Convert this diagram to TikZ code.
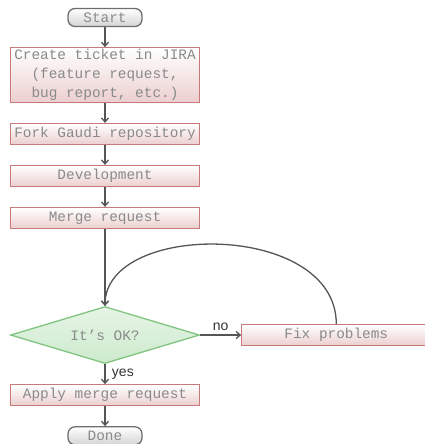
\documentclass[tikz,border=0pt]{standalone}
\usepackage{fontspec}
\setmonofont{Liberation Mono}
\setsansfont{Liberation Sans}
\usetikzlibrary{arrows.meta}
\usetikzlibrary{positioning}
\usetikzlibrary{shapes.geometric}

\definecolor{boxline}{HTML}{C87A7A}
\definecolor{boxfill}{HTML}{ECCFCF}
\definecolor{okline}{HTML}{80C480}
\definecolor{okfill}{HTML}{CDEACD}
\definecolor{termline}{HTML}{6E6E6E}
\definecolor{termfill}{HTML}{D4D4D4}
\definecolor{flowtext}{HTML}{8A8A8A}
\definecolor{wire}{HTML}{555555}

\begin{document}
\begin{tikzpicture}[x=1pt,y=1pt,node distance=20pt and 41pt,
		every node/.style={font=\ttfamily\fontsize{14.4}{19}\selectfont,text=flowtext},
		stepbox/.style={draw=boxline,line width=1.3pt,rectangle,top color=white,bottom color=boxfill,
			minimum width=189pt,minimum height=20.7pt,inner xsep=3pt,inner ysep=1.5pt,align=center},
		terminal/.style={draw=termline,line width=1.3pt,rectangle,rounded corners=7pt,top color=white,bottom color=termfill,
			minimum width=74pt,minimum height=18pt,inner sep=1pt},
		decision/.style={draw=okline,line width=1.3pt,diamond,aspect=3.3,top color=okfill!50!white,bottom color=okfill,
			minimum width=189pt,minimum height=57pt,inner sep=0pt},
		flow/.style={draw=wire,line width=1.3pt,->,>={Straight Barb[length=4pt,width=7pt]}},
		answer/.style={font=\sffamily\fontsize{14}{16}\selectfont,text=black!80}]
		\useasboundingbox (0,0) rectangle (424,-444);

		\node [terminal] (start) at (105,-17.5) {Start};
		\node [stepbox,below=of start] (ticket) {Create ticket in JIRA\\(feature request,\\bug report, etc.)};
		\node [stepbox,below=of ticket] (fork) {Fork Gaudi repository};
		\node [stepbox,below=of fork] (dev) {Development};
		\node [stepbox,below=of dev] (merge) {Merge request};
		\node [decision,below=77pt of merge] (ok) {It’s OK?};
		\node [stepbox,right=of ok] (fix) {Fix problems};
		\node [stepbox,below=of ok] (apply) {Apply merge request};
		\node [terminal,below=of apply] (done) {Done};

		\draw [flow] (start) -- (ticket);
		\draw [flow] (ticket) -- (fork);
		\draw [flow] (fork) -- (dev);
		\draw [flow] (dev) -- (merge);
		\draw [flow] (merge) -- (ok);
		\draw [flow] (ok) -- node [midway,above,answer] {no} (fix);
		\draw [flow] (fix.north) .. controls +(0,103) and +(0,85) .. (ok.north);
		\draw [flow] (ok) -- node [midway,right,xshift=3pt,answer] {yes} (apply);
		\draw [flow] (apply) -- (done);
	\end{tikzpicture}
\end{document}
